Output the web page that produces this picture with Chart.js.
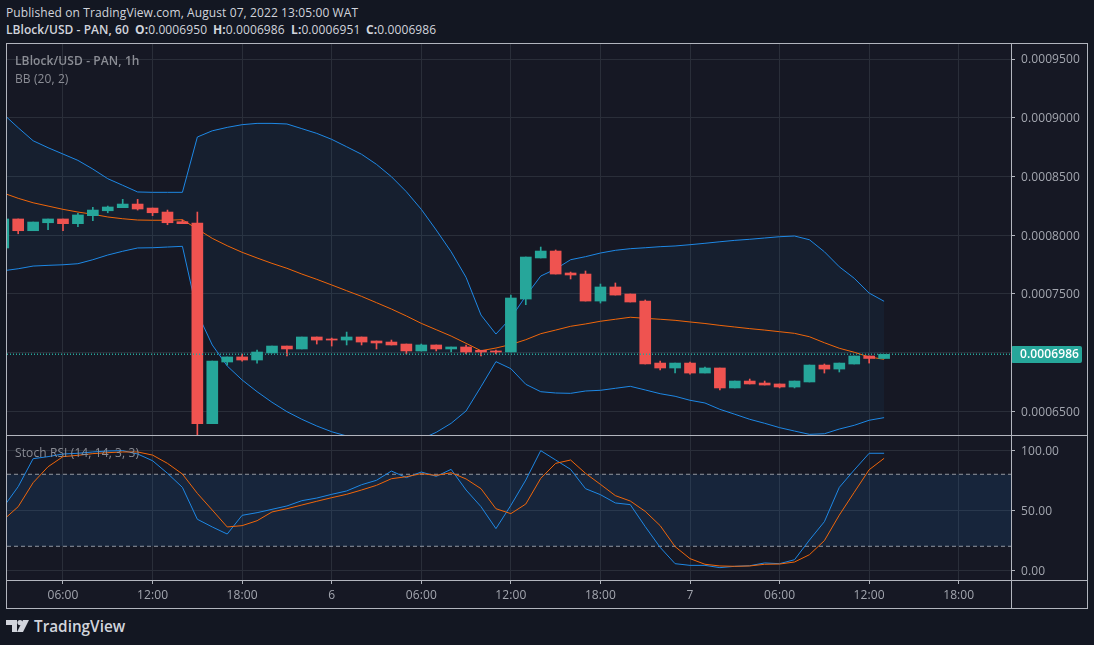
<!DOCTYPE html>
<html>
<head>
<meta charset="utf-8">
<title>LBlock/USD - PAN</title>
<script src="https://cdn.jsdelivr.net/npm/chart.js@4"></script>
<style>
    html, body { margin: 0; padding: 0; width: 1094px; height: 645px; overflow: hidden; background: #131722; }
    body { position: relative; font-family: "Open Sans", sans-serif; font-size: 12px; letter-spacing: 0.1px; color: #d1d4dc; }
    .abs { position: absolute; white-space: nowrap; }
    canvas { position: absolute; display: block; }
    #frame { left: 6px; top: 43px; width: 1080px; height: 565px; background: #161824; }
    .line { position: absolute; background: #b2b5be; pointer-events: none; }
    .label { color: #8b8d95; }
    b { font-weight: 700; }
    .symbol { font-weight: 600; letter-spacing: 0.05px; }
</style>
</head>
<body>
<div id="frame" class="abs"></div>
<canvas id="priceChart" width="1080" height="391" style="left:7px;top:44px"></canvas>
<canvas id="stochChart" width="1080" height="172" style="left:7px;top:436px"></canvas>

<div class="line" style="left:6px;top:43px;width:1081px;height:1px"></div>
<div class="line" style="left:6px;top:435px;width:1081px;height:1px"></div>
<div class="line" style="left:6px;top:580px;width:1081px;height:1px"></div>
<div class="line" style="left:6px;top:608px;width:1081px;height:1px"></div>
<div class="line" style="left:6px;top:43px;width:1px;height:566px"></div>
<div class="line" style="left:1011px;top:43px;width:1px;height:566px"></div>
<div class="line" style="left:1087px;top:43px;width:1px;height:566px"></div>

<div class="abs" style="left:6px;top:4px">Published on TradingView.com, August 07, 2022 13:05:00 WAT</div>
<div class="abs symbol" style="left:6px;top:21px">LBlock/USD - PAN, 60</div>
<div class="abs" style="left:135px;top:21px"><b>O:</b>0.0006950</div>
<div class="abs" style="left:213px;top:21px"><b>H:</b>0.0006986</div>
<div class="abs" style="left:291px;top:21px"><b>L:</b>0.0006951</div>
<div class="abs" style="left:366px;top:21px"><b>C:</b>0.0006986</div>
<div class="abs label" style="left:15px;top:52px;font-weight:600">LBlock/USD - PAN, 1h</div>
<div class="abs label" style="left:15px;top:70px">BB (20, 2)</div>
<div class="abs label" style="left:15px;top:444px">Stoch RSI (14, 14, 3, 3)</div>

<svg class="abs" style="left:6px;top:620px" width="23" height="12" viewBox="0 0 23 12">
    <polygon points="0,0 11,0 11,12 6,12 6,5 0,5" fill="#d1d4dc"/>
    <circle cx="14" cy="2.6" r="2.6" fill="#d1d4dc"/>
    <polygon points="17,0 23,0 17,12 11,12" fill="#d1d4dc"/>
</svg>
<div class="abs" style="left:34px;top:616px;font-size:15.3px;letter-spacing:0;font-weight:600;color:#d1d4dc">TradingView</div>

<script>
// Candles, one per hour. Hours count from 00:00 on Aug 5
const opens = [
    0.0007891, 0.0008138, 0.0008038, 0.0008106, 0.0008138, 0.0008098, 0.0008166, 0.0008208, 0.0008234, 0.0008265,
    0.0008231, 0.0008197, 0.0008115, 0.0008104, 0.0006395, 0.0006920, 0.0006963, 0.0006937, 0.0006997, 0.0007056,
    0.0007031, 0.0007133, 0.0007116, 0.0007107, 0.0007133, 0.0007099, 0.0007090, 0.0007073, 0.0007014, 0.0007065,
    0.0007031, 0.0007048, 0.0007020, 0.0007014, 0.0007005, 0.0007456, 0.0007806, 0.0007865, 0.0007678, 0.0007669,
    0.0007439, 0.0007559, 0.0007499, 0.0007439, 0.0006911, 0.0006869, 0.0006911, 0.0006826, 0.0006869, 0.0006699,
    0.0006758, 0.0006741, 0.0006733, 0.0006707, 0.0006750, 0.0006894, 0.0006860, 0.0006903, 0.0006971, 0.0006950
];
const closes = [
    0.0008138, 0.0008038, 0.0008112, 0.0008138, 0.0008098, 0.0008172, 0.0008214, 0.0008240, 0.0008265, 0.0008223,
    0.0008191, 0.0008106, 0.0008098, 0.0006395, 0.0006928, 0.0006963, 0.0006937, 0.0007005, 0.0007056, 0.0007031,
    0.0007133, 0.0007107, 0.0007107, 0.0007133, 0.0007090, 0.0007082, 0.0007065, 0.0007014, 0.0007065, 0.0007031,
    0.0007048, 0.0007005, 0.0007005, 0.0007005, 0.0007465, 0.0007814, 0.0007865, 0.0007669, 0.0007661, 0.0007439,
    0.0007559, 0.0007490, 0.0007431, 0.0006903, 0.0006869, 0.0006911, 0.0006826, 0.0006869, 0.0006699, 0.0006758,
    0.0006733, 0.0006724, 0.0006707, 0.0006758, 0.0006894, 0.0006860, 0.0006911, 0.0006971, 0.0006950, 0.0006986
];
const highs = [
    0.0008138, 0.0008138, 0.0008112, 0.0008138, 0.0008138, 0.0008186, 0.0008237, 0.0008248, 0.0008305, 0.0008305,
    0.0008231, 0.0008214, 0.0008129, 0.0008197, 0.0006928, 0.0006963, 0.0006988, 0.0007022, 0.0007056, 0.0007056,
    0.0007133, 0.0007133, 0.0007124, 0.0007175, 0.0007133, 0.0007099, 0.0007107, 0.0007073, 0.0007073, 0.0007065,
    0.0007048, 0.0007065, 0.0007020, 0.0007022, 0.0007490, 0.0007814, 0.0007899, 0.0007874, 0.0007686, 0.0007695,
    0.0007584, 0.0007593, 0.0007499, 0.0007448, 0.0006928, 0.0006911, 0.0006920, 0.0006877, 0.0006869, 0.0006758,
    0.0006775, 0.0006758, 0.0006733, 0.0006758, 0.0006894, 0.0006903, 0.0006911, 0.0006971, 0.0006971, 0.0006986
];
const lows = [
    0.0007891, 0.0008012, 0.0008038, 0.0008046, 0.0008038, 0.0008072, 0.0008123, 0.0008191, 0.0008234, 0.0008214,
    0.0008166, 0.0008089, 0.0008098, 0.0006290, 0.0006395, 0.0006894, 0.0006928, 0.0006911, 0.0006997, 0.0006971,
    0.0007031, 0.0007073, 0.0007056, 0.0007065, 0.0007065, 0.0007031, 0.0007065, 0.0006988, 0.0007014, 0.0007014,
    0.0007005, 0.0006988, 0.0006971, 0.0006988, 0.0007005, 0.0007408, 0.0007806, 0.0007669, 0.0007627, 0.0007439,
    0.0007422, 0.0007490, 0.0007431, 0.0006903, 0.0006852, 0.0006826, 0.0006817, 0.0006826, 0.0006682, 0.0006699,
    0.0006733, 0.0006724, 0.0006699, 0.0006699, 0.0006750, 0.0006826, 0.0006835, 0.0006903, 0.0006911, 0.0006951
];

// Bollinger bands
const bbUpper = [
    0.0009032, 0.0008915, 0.0008804, 0.0008745, 0.0008691, 0.0008637, 0.0008563, 0.0008481, 0.0008425, 0.0008368,
    0.0008365, 0.0008365, 0.0008365, 0.0008836, 0.0008889, 0.0008918, 0.0008941, 0.0008952, 0.0008952, 0.0008947,
    0.0008907, 0.0008867, 0.0008816, 0.0008753, 0.0008689, 0.0008603, 0.0008498, 0.0008370, 0.0008220, 0.0008044,
    0.0007859, 0.0007641, 0.0007320, 0.0007158, 0.0007295, 0.0007482, 0.0007652, 0.0007712, 0.0007791, 0.0007817,
    0.0007848, 0.0007871, 0.0007885, 0.0007893, 0.0007902, 0.0007908, 0.0007919, 0.0007931, 0.0007944, 0.0007956,
    0.0007965, 0.0007976, 0.0007987, 0.0007993, 0.0007961, 0.0007859, 0.0007731, 0.0007633, 0.0007507, 0.0007437
];
const bbBasis = [
    0.0008359, 0.0008314, 0.0008276, 0.0008248, 0.0008220, 0.0008197, 0.0008178, 0.0008155, 0.0008140, 0.0008129,
    0.0008127, 0.0008127, 0.0008132, 0.0008052, 0.0007973, 0.0007910, 0.0007854, 0.0007806, 0.0007760, 0.0007718,
    0.0007669, 0.0007624, 0.0007576, 0.0007527, 0.0007479, 0.0007425, 0.0007371, 0.0007312, 0.0007249, 0.0007195,
    0.0007141, 0.0007079, 0.0007016, 0.0007039, 0.0007069, 0.0007110, 0.0007161, 0.0007192, 0.0007224, 0.0007244,
    0.0007267, 0.0007284, 0.0007301, 0.0007292, 0.0007284, 0.0007275, 0.0007261, 0.0007248, 0.0007232, 0.0007218,
    0.0007204, 0.0007192, 0.0007178, 0.0007164, 0.0007135, 0.0007084, 0.0007037, 0.0007003, 0.0006963, 0.0006943
];
const bbLower = [
    0.0007697, 0.0007714, 0.0007737, 0.0007743, 0.0007748, 0.0007757, 0.0007791, 0.0007831, 0.0007863, 0.0007891,
    0.0007893, 0.0007899, 0.0007905, 0.0007337, 0.0007065, 0.0006886, 0.0006767, 0.0006667, 0.0006577, 0.0006497,
    0.0006432, 0.0006375, 0.0006326, 0.0006290, 0.0006264, 0.0006247, 0.0006239, 0.0006247, 0.0006264, 0.0006321,
    0.0006398, 0.0006503, 0.0006710, 0.0006923, 0.0006863, 0.0006730, 0.0006667, 0.0006656, 0.0006653, 0.0006673,
    0.0006679, 0.0006696, 0.0006713, 0.0006682, 0.0006650, 0.0006628, 0.0006594, 0.0006571, 0.0006517, 0.0006475,
    0.0006432, 0.0006398, 0.0006361, 0.0006332, 0.0006304, 0.0006309, 0.0006349, 0.0006381, 0.0006424, 0.0006446
];

// Stoch RSI
const stochK = [
    52.5, 69.7, 93, 94.7, 96.9, 97.5, 98.6, 99.4, 99.7, 96.9,
    91.3, 80.8, 69.1, 42.5, 36.1, 30.2, 45.8, 48, 50.8, 53.6,
    58, 60.2, 63.3, 66.1, 71.3, 75, 82.7, 77.2, 81.9, 78.3,
    84.1, 66.9, 53, 34.7, 54.1, 75.2, 99.7, 91.9, 84.1, 68,
    63, 56.1, 54.7, 36.4, 19.1, 5.5, 4.1, 4.1, 2.2, 3.3,
    3.8, 6.1, 5.5, 8.8, 25.2, 40.5, 69.1, 83.6, 97.5, 97.5
];
const stochD = [
    41.9, 53, 73, 86.3, 94.7, 95.8, 97.2, 98, 98.6, 98.6,
    96, 89.1, 80.2, 64.1, 50.2, 36.1, 37.2, 41.3, 48.6, 51.3,
    54.4, 57.5, 60.5, 63.3, 66.9, 70.8, 76.3, 78, 80.5, 79.1,
    81.3, 76.1, 68, 51.3, 47.2, 55.2, 76.6, 89.1, 91.9, 80.8,
    71.6, 62.2, 57.7, 49.1, 37.2, 19.7, 9.7, 5, 3.6, 3.3,
    3.6, 5, 5.2, 6.9, 13, 24.7, 46, 65, 83.8, 93.3
];

const priceTicks = [0.00095, 0.0009, 0.00085, 0.0008, 0.00075, 0.0007, 0.00065];
const stochTicks = [100, 50, 0];
const timeTicks = [6, 12, 18, 24, 30, 36, 42, 48, 54, 60, 66];
const timeLabels = ['06:00', '12:00', '18:00', '6', '06:00', '12:00', '18:00', '7', '06:00', '12:00', '18:00'];

const hourMin = 2.25;
const hourMax = 69.5;
const priceMin = 0.00062984;
const priceMax = 0.0009628;
const stochMin = -8.1;
const stochMax = 111.9;
const stochUpperBand = 80;
const stochLowerBand = 20;

const GREEN = '#26a69a';
const RED = '#ef5350';
const BLUE = '#1e88e5';
const ORANGE = '#f0660a';
const GRID = '#2a2e39';
const AXIS = '#b2b5be';
const TICK_TEXT = '#a3a6af';
const FONT = { family: '"Open Sans", sans-serif', size: 12 };

const hours = opens.map((_, i) => i + 2);
const lastClose = closes[closes.length - 1];
const candleColors = opens.map((o, i) => (closes[i] >= o ? GREEN : RED));

function series(values) {
    return values.map((v, i) => ({ x: hours[i], y: v }));
}

function flatLine(value) {
    return [{ x: hourMin, y: value }, { x: hourMax, y: value }];
}

function lineDataset(data, color, order, extra) {
    return Object.assign({
        type: 'line',
        data: data,
        borderColor: color,
        borderWidth: 1,
        pointRadius: 0,
        tension: 0,
        fill: false,
        order: order
    }, extra);
}

// Chart.js keeps room for half of the end labels, the panes must fill the canvas
function noScalePadding(scale) {
    scale.paddingTop = 0;
    scale.paddingBottom = 0;
    scale.paddingLeft = 0;
    scale.paddingRight = 0;
}

function timeScale(showLabels) {
    return {
        type: 'linear',
        min: hourMin,
        max: hourMax,
        offset: false,
        border: { display: false },
        grid: { color: GRID, offset: false, tickColor: AXIS, tickLength: 4, drawTicks: showLabels },
        ticks: {
            display: showLabels,
            autoSkip: false,
            maxRotation: 0,
            padding: 4,
            color: TICK_TEXT,
            font: FONT,
            callback: function (value) {
                return timeLabels[timeTicks.indexOf(value)];
            }
        },
        afterBuildTicks: function (scale) {
            scale.ticks = timeTicks.map(v => ({ value: v }));
        },
        afterFit: function (scale) {
            scale.height = showLabels ? 28 : 0;
            noScalePadding(scale);
        }
    };
}

function valueScale(min, max, tickValues, digits) {
    return {
        type: 'linear',
        position: 'right',
        min: min,
        max: max,
        border: { display: false },
        grid: { color: GRID, tickColor: AXIS, tickLength: 4 },
        ticks: {
            padding: 6,
            labelOffset: 1,
            color: TICK_TEXT,
            font: FONT,
            callback: function (value) {
                return value.toFixed(digits);
            }
        },
        afterBuildTicks: function (scale) {
            scale.ticks = tickValues.map(v => ({ value: v }));
        },
        afterFit: function (scale) {
            scale.width = 76;
            noScalePadding(scale);
        }
    };
}

const baseOptions = {
    responsive: false,
    animation: false,
    events: [],
    layout: { padding: 0 },
    plugins: { legend: { display: false }, tooltip: { enabled: false } }
};

// Last price tag on the right axis
const lastPriceTag = {
    id: 'lastPriceTag',
    afterDraw: function (chart) {
        const ctx = chart.ctx;
        const y = chart.scales.y.getPixelForValue(lastClose);
        const left = chart.scales.y.left;
        ctx.save();
        ctx.fillStyle = GREEN;
        ctx.beginPath();
        ctx.roundRect(left, Math.round(y) - 8, 71, 17, 2);
        ctx.fill();
        ctx.fillStyle = '#ffffff';
        ctx.font = '600 12px "Open Sans", sans-serif';
        ctx.textBaseline = 'middle';
        ctx.fillText(lastClose.toFixed(7), left + 9, Math.round(y) + 1);
        ctx.restore();
    }
};

new Chart(document.getElementById('priceChart').getContext('2d'), {
    type: 'bar',
    data: {
        datasets: [
            lineDataset(series(bbUpper), BLUE, 5, { fill: '+1', backgroundColor: 'rgba(33, 150, 243, 0.06)' }),
            lineDataset(series(bbLower), BLUE, 5),
            lineDataset(series(bbBasis), ORANGE, 4),
            {
                data: hours.map((h, i) => ({ x: h, y: [lows[i], highs[i]] })),
                backgroundColor: candleColors,
                barThickness: 1,
                grouped: false,
                order: 3
            },
            {
                data: hours.map((h, i) => ({ x: h, y: [opens[i], closes[i]] })),
                backgroundColor: candleColors,
                barThickness: 11,
                grouped: false,
                order: 2
            },
            lineDataset(flatLine(lastClose), GREEN, 1, { borderDash: [1, 2], borderWidth: 1.5 })
        ]
    },
    options: Object.assign({}, baseOptions, {
        scales: {
            x: timeScale(false),
            y: valueScale(priceMin, priceMax, priceTicks, 7)
        }
    }),
    plugins: [lastPriceTag]
});

new Chart(document.getElementById('stochChart').getContext('2d'), {
    type: 'line',
    data: {
        datasets: [
            lineDataset(flatLine(stochUpperBand), '#9598a1', 4, {
                borderDash: [4, 3],
                fill: '+1',
                backgroundColor: 'rgba(33, 150, 243, 0.11)'
            }),
            lineDataset(flatLine(stochLowerBand), '#9598a1', 4, { borderDash: [4, 3] }),
            lineDataset(series(stochD), ORANGE, 2),
            lineDataset(series(stochK), BLUE, 3)
        ]
    },
    options: Object.assign({}, baseOptions, {
        scales: {
            x: timeScale(true),
            y: valueScale(stochMin, stochMax, stochTicks, 2)
        }
    })
});
</script>
</body>
</html>
